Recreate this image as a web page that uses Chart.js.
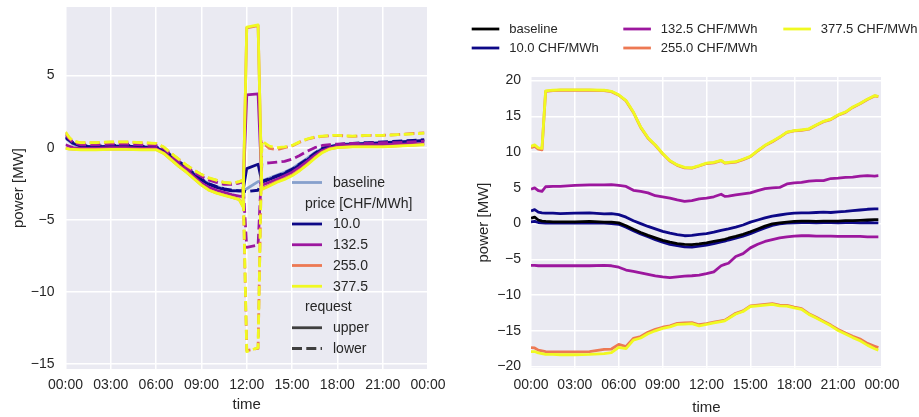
<!DOCTYPE html>
<html>
<head>
<meta charset="utf-8">
<title>power</title>
<script src="https://cdn.jsdelivr.net/npm/chart.js@4.4.1/dist/chart.umd.min.js"></script>
<style>
  html, body { margin: 0; padding: 0; background: #fff; }
  #wrap { position: relative; width: 919px; height: 417px; }
  #left { position: absolute; left: 0; top: 0; }
  #right { position: absolute; left: 460px; top: 0; }
</style>
</head>
<body>
<div id="wrap">
  <canvas id="left" width="460" height="417"></canvas>
  <canvas id="right" width="459" height="417"></canvas>
</div>
<script>
// ---------- data ----------
const PRICES = ['10.0', '132.5', '255.0', '377.5'];
const PRICE_COLORS = ['#0d0887', '#9c179e', '#ed7953', '#f0f921'];
const HOUR_TICKS = [0, 3, 6, 9, 12, 15, 18, 21, 24];
const TICK_LABELS = ['00:00', '03:00', '06:00', '09:00', '12:00', '15:00', '18:00', '21:00', '00:00'];

// left panel: single activation request at noon (hours of day)
const T_LEFT = [0, 0.25, 0.5, 1, 2, 3, 4, 5, 6, 6.5, 7, 7.5, 8, 8.5, 9, 9.5, 10, 10.5, 11, 11.5,
  11.75, 12, 12.75, 13, 13.5, 14, 14.5, 15, 15.5, 16, 16.5, 17, 17.5, 18, 19, 20, 21, 22, 23, 23.75];

const L_BASELINE = [0.65, 0.45, 0.25, 0.1, 0.05, 0.1, 0.1, 0.05, 0.0, -0.2, -0.55, -0.95, -1.35, -1.8, -2.2, -2.5, -2.7, -2.85, -2.95, -3.0,
  -3.0, -2.85, -2.35, -2.3, -2.1, -1.9, -1.7, -1.45, -1.1, -0.75, -0.35, -0.05, 0.1, 0.2, 0.3, 0.3, 0.3, 0.35, 0.4, 0.45];

const L_UPPER_10 = [0.7, 0.5, 0.3, 0.1, 0.05, 0.1, 0.1, 0.05, 0.0, -0.25, -0.6, -1.0, -1.4, -1.85, -2.25, -2.55, -2.75, -2.9, -3.0, -3.0,
  -3.0, -1.45, -1.15, -2.4, -2.2, -2.0, -1.8, -1.55, -1.2, -0.85, -0.45, -0.1, 0.05, 0.17, 0.25, 0.3, 0.35, 0.4, 0.45, 0.5];
const L_LOWER_10 = [0.75, 0.55, 0.35, 0.15, 0.1, 0.15, 0.15, 0.1, 0.05, -0.2, -0.55, -0.95, -1.35, -1.8, -2.2, -2.5, -2.7, -2.85, -2.95, -3.0,
  -3.0, -3.05, -2.95, -2.35, -2.15, -1.95, -1.75, -1.5, -1.15, -0.8, -0.4, -0.05, 0.1, 0.2, 0.3, 0.35, 0.4, 0.45, 0.5, 0.55];

const L_UPPER_132 = [0.2, 0.1, 0.0, -0.05, -0.05, 0.0, 0.0, -0.05, -0.05, -0.35, -0.75, -1.15, -1.55, -2.0, -2.45, -2.75, -2.95, -3.1, -3.25, -3.35,
  -3.4, 3.65, 3.72, -2.6, -2.4, -2.2, -1.95, -1.7, -1.35, -0.95, -0.55, -0.2, -0.02, 0.1, 0.2, 0.2, 0.2, 0.25, 0.25, 0.3];
const L_LOWER_132 = [0.9, 0.6, 0.35, 0.2, 0.2, 0.25, 0.25, 0.2, 0.15, -0.05, -0.5, -0.95, -1.35, -1.7, -2.0, -2.25, -2.4, -2.55, -2.55, -2.45,
  -2.35, -6.9, -6.75, -1.1, -1.05, -1.0, -0.95, -0.8, -0.55, -0.25, 0.0, 0.15, 0.2, 0.25, 0.3, 0.3, 0.35, 0.35, 0.4, 0.45];

const L_UPPER_255 = [-0.03, -0.08, -0.1, -0.13, -0.13, -0.1, -0.1, -0.13, -0.13, -0.38, -0.83, -1.28, -1.68, -2.13, -2.58, -2.93, -3.13, -3.28, -3.43, -3.58,
  -4.05, 8.3, 8.45, -2.85, -2.6, -2.35, -2.15, -1.9, -1.55, -1.15, -0.7, -0.3, -0.08, 0.02, 0.07, 0.07, 0.07, 0.12, 0.17, 0.22];
const L_LOWER_255 = [1.05, 0.68, 0.43, 0.33, 0.33, 0.38, 0.38, 0.33, 0.28, 0.03, -0.42, -0.82, -1.22, -1.57, -1.87, -2.12, -2.27, -2.42, -2.47, -2.37,
  -2.27, -14.05, -13.9, 0.4, -0.05, -0.15, 0.0, 0.12, 0.38, 0.58, 0.72, 0.78, 0.82, 0.85, 0.78, 0.85, 0.85, 0.9, 0.98, 1.02];

const L_UPPER_377 = [-0.05, -0.1, -0.12, -0.15, -0.15, -0.12, -0.12, -0.15, -0.15, -0.4, -0.85, -1.3, -1.7, -2.15, -2.6, -2.95, -3.15, -3.3, -3.45, -3.6,
  -4.1, 8.35, 8.5, -2.9, -2.65, -2.4, -2.2, -1.95, -1.6, -1.2, -0.75, -0.35, -0.1, 0.0, 0.05, 0.05, 0.05, 0.1, 0.15, 0.2];
const L_LOWER_377 = [1.08, 0.7, 0.45, 0.35, 0.35, 0.4, 0.4, 0.35, 0.3, 0.05, -0.4, -0.8, -1.2, -1.55, -1.85, -2.1, -2.25, -2.4, -2.45, -2.35,
  -2.25, -14.13, -13.85, 0.45, 0.1, 0.0, 0.05, 0.15, 0.4, 0.6, 0.75, 0.8, 0.85, 0.85, 0.8, 0.85, 0.85, 0.9, 0.95, 1.0];

// right panel: flexibility envelope over the whole day
const T_RIGHT = [0, 0.25, 0.5, 0.75, 1, 1.5, 2, 3, 4, 5, 5.5, 6, 6.5, 7, 7.5, 8, 8.5, 9, 9.5, 10, 10.5, 11, 11.5, 12, 12.5,
  13, 13.25, 13.5, 14, 14.5, 15, 15.5, 16, 16.5, 17, 17.5, 18, 18.5, 19, 19.5, 20, 20.5, 21, 21.5, 22, 22.5, 23, 23.5, 23.75];

const R_BASELINE = [0.75, 0.9, 0.5, 0.35, 0.3, 0.25, 0.25, 0.25, 0.3, 0.2, 0.2, 0.1, -0.3, -0.8, -1.25, -1.65, -2.0, -2.35, -2.6, -2.8, -2.9, -2.95, -2.85, -2.7, -2.5,
  -2.3, -2.2, -2.05, -1.8, -1.5, -1.15, -0.75, -0.35, -0.05, 0.1, 0.2, 0.3, 0.35, 0.35, 0.3, 0.35, 0.35, 0.35, 0.4, 0.4, 0.45, 0.5, 0.55, 0.55];

const R_HIGH_10 = [1.75, 1.95, 1.6, 1.5, 1.45, 1.45, 1.4, 1.45, 1.5, 1.35, 1.4, 1.25, 0.9, 0.4, 0.0, -0.4, -0.75, -1.1, -1.35, -1.55, -1.7, -1.65, -1.5, -1.4, -1.2,
  -0.95, -0.85, -0.75, -0.5, -0.2, 0.2, 0.5, 0.8, 1.05, 1.2, 1.35, 1.45, 1.5, 1.5, 1.55, 1.6, 1.55, 1.65, 1.7, 1.8, 1.9, 2.0, 2.05, 2.05];
const R_LOW_10 = [0.25, 0.3, 0.15, 0.1, 0.05, 0.05, 0.05, 0.05, 0.1, 0.05, 0.0, -0.1, -0.5, -1.0, -1.45, -1.85, -2.25, -2.6, -2.9, -3.1, -3.25, -3.3, -3.15, -3.0, -2.8,
  -2.55, -2.45, -2.3, -2.05, -1.75, -1.4, -1.0, -0.6, -0.25, -0.05, 0.05, 0.1, 0.15, 0.15, 0.1, 0.15, 0.15, 0.1, 0.15, 0.15, 0.1, 0.15, 0.1, 0.1];

const R_HIGH_132 = [4.8, 5.0, 4.6, 4.5, 5.15, 5.2, 5.2, 5.35, 5.4, 5.4, 5.45, 5.35, 5.2, 4.65, 4.5, 4.3, 3.9, 3.75, 3.55, 3.3, 3.1, 3.2, 3.45, 3.55, 3.75,
  4.1, 3.8, 3.85, 4.0, 4.15, 4.3, 4.6, 4.9, 5.0, 5.05, 5.55, 5.7, 5.75, 5.95, 6.0, 6.0, 6.3, 6.35, 6.45, 6.5, 6.65, 6.7, 6.65, 6.7];
const R_LOW_132 = [-5.85, -5.85, -5.9, -5.9, -5.9, -5.9, -5.9, -5.9, -5.9, -5.85, -5.9, -6.1, -6.5, -6.7, -6.9, -7.1, -7.3, -7.45, -7.55, -7.45, -7.35, -7.3, -7.2, -7.0, -6.75,
  -5.9, -5.7, -5.55, -4.6, -4.2, -3.4, -2.9, -2.5, -2.25, -2.0, -1.85, -1.75, -1.7, -1.7, -1.75, -1.75, -1.75, -1.8, -1.8, -1.8, -1.8, -1.85, -1.85, -1.85];

const R_HIGH_255 = [10.6, 10.8, 10.4, 10.3, 18.5, 18.6, 18.65, 18.65, 18.65, 18.6, 18.45, 17.95, 17.15, 15.55, 13.45, 11.95, 10.95, 9.75, 8.75, 8.15, 7.8, 7.75, 8.05, 8.4, 8.5,
  8.8, 8.45, 8.5, 8.6, 8.95, 9.35, 10.15, 10.9, 11.45, 12.05, 12.75, 12.95, 13.05, 13.2, 13.75, 14.25, 14.55, 15.15, 15.55, 16.25, 16.75, 17.35, 17.85, 17.75];
const R_LOW_255 = [-17.35, -17.4, -17.7, -17.8, -17.9, -17.95, -17.95, -17.95, -17.9, -17.6, -17.55, -16.9, -17.2, -16.05, -15.8, -15.2, -14.8, -14.5, -14.3, -13.95, -13.9, -13.85, -14.15, -14.0, -13.8,
  -13.6, -13.5, -13.2, -12.55, -12.2, -11.5, -11.4, -11.3, -11.2, -11.4, -11.45, -11.7, -11.9, -12.6, -13.1, -13.65, -14.2, -14.8, -15.3, -15.75, -16.15, -16.75, -17.15, -17.35];

const R_HIGH_377 = [10.8, 11.0, 10.6, 10.5, 18.55, 18.65, 18.7, 18.7, 18.7, 18.65, 18.5, 18.0, 17.2, 15.6, 13.5, 12.0, 11.0, 9.8, 8.8, 8.2, 7.85, 7.8, 8.1, 8.45, 8.55,
  8.85, 8.5, 8.55, 8.65, 9.0, 9.4, 10.2, 10.95, 11.5, 12.1, 12.8, 13.0, 13.1, 13.25, 13.8, 14.3, 14.6, 15.2, 15.6, 16.3, 16.8, 17.4, 17.9, 17.8];
const R_LOW_377 = [-17.9, -17.9, -18.1, -18.2, -18.3, -18.3, -18.35, -18.35, -18.3, -18.2, -18.05, -17.3, -17.5, -16.3, -16.0, -15.4, -15.0, -14.65, -14.45, -14.1, -14.05, -14.0, -14.3, -14.1, -13.9,
  -13.7, -13.6, -13.3, -12.65, -12.3, -11.6, -11.5, -11.4, -11.3, -11.5, -11.55, -11.8, -12.0, -12.7, -13.2, -13.75, -14.3, -14.95, -15.45, -15.95, -16.4, -17.0, -17.5, -17.7];

// ---------- styling ----------
const TEXT = '#262626';
const PLOT_BG = '#EAEAF2';
const BASELINE_LEFT = '#86a0cc';
const DASH = [10, 4.3];
const LW = 2.8;

Chart.defaults.font.family = "'Liberation Sans', Arial, Helvetica, sans-serif";
Chart.defaults.color = TEXT;
Chart.defaults.animation = false;

function series(times, values, color, dashed) {
  return {
    data: values.map((y, i) => ({ x: times[i], y })),
    borderColor: color,
    borderWidth: LW,
    borderDash: dashed ? DASH : [],
    borderJoinStyle: 'round',
    borderCapStyle: 'butt',
    pointRadius: 0,
    pointHoverRadius: 0,
    tension: 0,
    fill: false
  };
}

function minusFmt(v) {
  return v < 0 ? '\u2212' + Math.abs(v) : String(v);
}

function timeAxis(height, labelPad, titlePad) {
  return {
    type: 'linear', min: 0, max: 24,
    afterBuildTicks: s => { s.ticks = HOUR_TICKS.map(v => ({ value: v })); },
    afterFit: s => { s.height = height; s.paddingLeft = 0; s.paddingRight = 0; },
    ticks: {
      callback: v => TICK_LABELS[HOUR_TICKS.indexOf(v)],
      padding: labelPad, color: TEXT, font: { size: 14 },
      maxRotation: 0, autoSkip: false
    },
    grid: { color: '#ffffff', lineWidth: 1.5, drawTicks: false },
    border: { display: false },
    title: { display: true, text: 'time', color: TEXT, font: { size: 15 }, padding: { top: 0, bottom: titlePad } }
  };
}

function powerAxis(min, max, width, labelPad, titlePad) {
  return {
    type: 'linear', min, max,
    afterFit: s => { s.width = width; s.paddingTop = 0; s.paddingBottom = 0; },
    ticks: { stepSize: 5, includeBounds: false, callback: minusFmt, padding: labelPad, color: TEXT, font: { size: 14 } },
    grid: { color: '#ffffff', lineWidth: 1.5, drawTicks: false },
    border: { display: false },
    title: { display: true, text: 'power [MW]', color: TEXT, font: { size: 15 }, padding: { top: titlePad, bottom: 0 } }
  };
}

const plotBackground = {
  id: 'plotBackground',
  beforeDraw(chart) {
    const { ctx, chartArea: a } = chart;
    ctx.save();
    ctx.fillStyle = PLOT_BG;
    ctx.fillRect(a.left, a.top, a.right - a.left, a.bottom - a.top);
    ctx.restore();
  }
};

// legend drawn as free-standing entries: lines with labels, and section headings
const keyLegend = {
  id: 'keyLegend',
  afterDraw(chart, args, opts) {
    const ctx = chart.ctx;
    ctx.save();
    ctx.font = opts.fontSize + "px 'Liberation Sans', Arial, sans-serif";
    ctx.textBaseline = 'middle';
    ctx.textAlign = 'left';
    for (const it of opts.items) {
      if (it.color) {
        ctx.beginPath();
        ctx.strokeStyle = it.color;
        ctx.lineWidth = opts.lineWidth;
        ctx.setLineDash(it.dash || []);
        ctx.moveTo(it.x0, it.y);
        ctx.lineTo(it.x1, it.y);
        ctx.stroke();
        ctx.setLineDash([]);
      }
      ctx.fillStyle = TEXT;
      ctx.fillText(it.label, it.tx, it.y + 0.5);
    }
    ctx.restore();
  }
};

// ---------- left panel ----------
const leftUpper = [L_UPPER_10, L_UPPER_132, L_UPPER_255, L_UPPER_377];
const leftLower = [L_LOWER_10, L_LOWER_132, L_LOWER_255, L_LOWER_377];
const leftSets = [];
for (let k = PRICES.length - 1; k >= 0; k--) {
  leftSets.push(series(T_LEFT, leftUpper[k], PRICE_COLORS[k], false));
  leftSets.push(series(T_LEFT, leftLower[k], PRICE_COLORS[k], true));
}
leftSets.push(series(T_LEFT, L_BASELINE, BASELINE_LEFT, false));

const LROW0 = 182.5, LSTEP = 20.75;
const leftKey = [];
const rowY = r => LROW0 + r * LSTEP;
leftKey.push({ label: 'baseline', color: BASELINE_LEFT, x0: 292, x1: 322, tx: 333, y: rowY(0) });
leftKey.push({ label: 'price [CHF/MWh]', tx: 305, y: rowY(1) });
PRICES.forEach((p, i) => leftKey.push({ label: p, color: PRICE_COLORS[i], x0: 292, x1: 322, tx: 333, y: rowY(2 + i) }));
leftKey.push({ label: 'request', tx: 305, y: rowY(6) });
leftKey.push({ label: 'upper', color: '#3f3f3f', x0: 292, x1: 322, tx: 333, y: rowY(7) });
leftKey.push({ label: 'lower', color: '#3f3f3f', dash: DASH, x0: 292, x1: 322, tx: 333, y: rowY(8) });

new Chart(document.getElementById('left'), {
  type: 'line',
  data: { datasets: leftSets },
  options: {
    responsive: false,
    devicePixelRatio: 1,
    layout: { padding: { left: 0, right: 32, top: 7, bottom: 0 } },
    scales: {
      x: timeAxis(48, 7.6, 3),
      y: powerAxis(-15.33, 9.74, 65.5, 11, 9.5)
    },
    plugins: {
      legend: { display: false },
      tooltip: { enabled: false },
      keyLegend: { items: leftKey, fontSize: 14, lineWidth: 2.8 }
    }
  },
  plugins: [plotBackground, keyLegend]
});

// ---------- right panel ----------
const rightHigh = [R_HIGH_10, R_HIGH_132, R_HIGH_255, R_HIGH_377];
const rightLow = [R_LOW_10, R_LOW_132, R_LOW_255, R_LOW_377];
const rightSets = [series(T_RIGHT, R_BASELINE, '#000000', false)];
for (let k = PRICES.length - 1; k >= 0; k--) {
  rightSets.push(series(T_RIGHT, rightHigh[k], PRICE_COLORS[k], false));
  rightSets.push(series(T_RIGHT, rightLow[k], PRICE_COLORS[k], false));
}

const rightEntries = [{ label: 'baseline', color: '#000000' }]
  .concat(PRICES.map((p, i) => ({ label: p + ' CHF/MWh', color: PRICE_COLORS[i] })));
const COL_X = [11.7, 163.3, 323.3];
const ROW_Y = [29, 48];
const rightKey = rightEntries.map((e, i) => {
  const c = Math.floor(i / 2), r = i % 2;
  return { label: e.label, color: e.color, x0: COL_X[c], x1: COL_X[c] + 27.6, tx: COL_X[c] + 37.5, y: ROW_Y[r] };
});

new Chart(document.getElementById('right'), {
  type: 'line',
  data: { datasets: rightSets },
  options: {
    responsive: false,
    devicePixelRatio: 1,
    layout: { padding: { left: 0, right: 37, top: 77, bottom: 0 } },
    scales: {
      x: timeAxis(49, 8.6, 0),
      y: powerAxis(-20.2, 20.5, 71, 10, 15)
    },
    plugins: {
      legend: { display: false },
      tooltip: { enabled: false },
      keyLegend: { items: rightKey, fontSize: 13, lineWidth: 2.8 }
    }
  },
  plugins: [plotBackground, keyLegend]
});
</script>
</body>
</html>
